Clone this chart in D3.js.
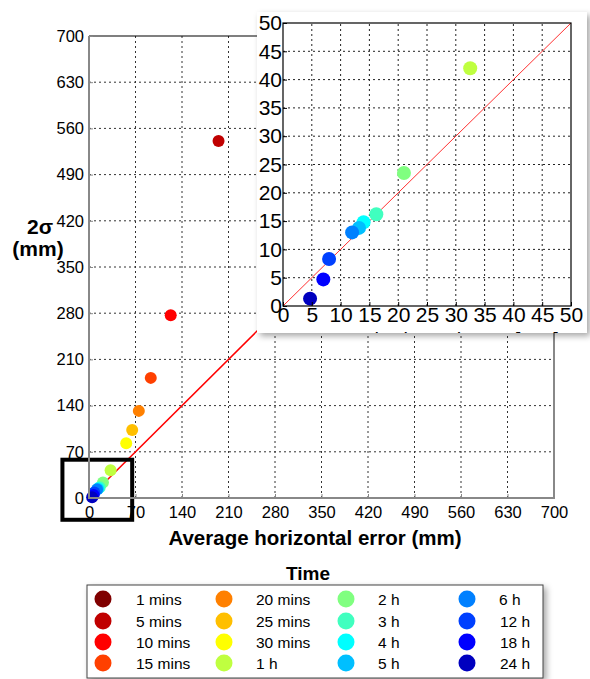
<!DOCTYPE html>
<html>
<head>
<meta charset="utf-8">
<script src="https://cdn.jsdelivr.net/npm/d3@7"></script>
<style>
  body { margin: 0; background: #fff; }
  text { font-family: "Liberation Sans", Arial, sans-serif; }
</style>
</head>
<body>
<div id="chart"></div>
<script>
// time steps, colours and measured values (mm)
const times = ["1 mins", "5 mins", "10 mins", "15 mins", "20 mins", "25 mins", "30 mins", "1 h",
    "2 h", "3 h", "4 h", "5 h", "6 h", "12 h", "18 h", "24 h"];
const colors = ["#800000", "#c00000", "#ff0000", "#ff4000", "#ff8000", "#ffbf00", "#ffff00", "#bfff40",
    "#80ff80", "#40ffbf", "#00ffff", "#00bfff", "#0080ff", "#0040ff", "#0000ff", "#0000bf"];
// 1 min lies outside the plotted range
const avgError = [null, 195, 123, 93, 75, 65, 56, 32.5, 21, 16.2, 14, 13.2, 12, 8, 7, 4.7];
const twoSigma = [null, 541, 277, 182, 132, 103, 83, 42, 23.5, 16.2, 14.8, 13.8, 13, 8.3, 4.7, 1.3];
const mainTicks = [0, 70, 140, 210, 280, 350, 420, 490, 560, 630, 700];
const insetTicks = [0, 5, 10, 15, 20, 25, 30, 35, 40, 45, 50];

const w = 590, h = 679;
const svg = d3.select("#chart").append("svg").attr("width", w).attr("height", h);

const defs = svg.append("defs");
const shadow = defs.append("filter").attr("id", "shadow")
    .attr("x", "-10%").attr("y", "-10%").attr("width", "125%").attr("height", "125%");
shadow.append("feDropShadow").attr("dx", 3).attr("dy", 3).attr("stdDeviation", 3)
    .attr("flood-color", "#000").attr("flood-opacity", 0.35);

const pts = times.map((t, i) => ({ t: t, c: colors[i], x: avgError[i], y: twoSigma[i] }))
    .filter(d => d.x !== null);

// ---------- main plot ----------
const x = d3.scaleLinear().domain([0, 700]).range([89, 554]);
const y = d3.scaleLinear().domain([0, 700]).range([498, 36]);

const grid = svg.append("g").attr("stroke", "#333").attr("stroke-dasharray", "2,3").attr("stroke-width", 1);
grid.selectAll(".gx").data(mainTicks.slice(1, -1)).enter().append("line")
    .attr("x1", d => x(d)).attr("x2", d => x(d)).attr("y1", y(0)).attr("y2", y(700));
grid.selectAll(".gy").data(mainTicks.slice(1, -1)).enter().append("line")
    .attr("y1", d => y(d)).attr("y2", d => y(d)).attr("x1", x(0)).attr("x2", x(700));

svg.append("line")
    .attr("x1", x(0)).attr("y1", y(0)).attr("x2", x(700)).attr("y2", y(700))
    .attr("stroke", "#ff0000").attr("stroke-width", 1.5);

svg.selectAll(".mp").data(pts).enter().append("circle")
    .attr("cx", d => x(d.x)).attr("cy", d => y(d.y)).attr("r", 6)
    .attr("fill", d => d.c);

// zoom box
svg.append("rect")
    .attr("x", x(-40)).attr("y", y(58))
    .attr("width", x(65) - x(-40)).attr("height", y(-33) - y(58))
    .attr("fill", "none").attr("stroke", "#000").attr("stroke-width", 4);

// frame
svg.append("line").attr("x1", x(0)).attr("x2", x(700)).attr("y1", y(700)).attr("y2", y(700))
    .attr("stroke", "#000").attr("stroke-width", 1.2);
svg.append("path")
    .attr("d", `M${x(0)},${y(700)}V${y(0)}H${x(700)}V${y(700)}`)
    .attr("fill", "none").attr("stroke", "#888").attr("stroke-width", 2);

const xAxis = svg.append("g").attr("transform", `translate(0,${y(0)})`)
    .call(d3.axisBottom(x).tickValues(mainTicks).tickSize(-4).tickPadding(8));
const yAxis = svg.append("g").attr("transform", `translate(${x(0)},0)`)
    .call(d3.axisLeft(y).tickValues(mainTicks).tickSize(-4).tickPadding(5));
[xAxis, yAxis].forEach(a => {
    a.select(".domain").remove();
    a.selectAll(".tick line").attr("stroke", "#888");
    a.selectAll("text").attr("font-size", "16.5px").attr("fill", "#000")
        .attr("font-family", "Liberation Sans, Arial, sans-serif");
});

svg.append("text").attr("x", 315).attr("y", 545).attr("text-anchor", "middle")
    .attr("font-size", "20.5px").attr("font-weight", "bold").text("Average horizontal error (mm)");
svg.append("text").attr("x", 40).attr("y", 234).attr("text-anchor", "middle")
    .attr("font-size", "21px").attr("font-weight", "bold").text("2σ");
svg.append("text").attr("x", 38).attr("y", 256).attr("text-anchor", "middle")
    .attr("font-size", "21px").attr("font-weight", "bold").text("(mm)");

// ---------- inset ----------
const ix = d3.scaleLinear().domain([0, 50]).range([283, 571]);
const iy = d3.scaleLinear().domain([0, 50]).range([306, 23]);

defs.append("clipPath").attr("id", "insetClip").append("rect")
    .attr("x", 257).attr("y", 12).attr("width", 330).attr("height", 321);

svg.append("rect").attr("x", 257).attr("y", 12).attr("width", 330).attr("height", 321)
    .attr("fill", "#fff").attr("filter", "url(#shadow)");

const inset = svg.append("g").attr("clip-path", "url(#insetClip)");

const igrid = inset.append("g").attr("stroke", "#222").attr("stroke-dasharray", "2,3").attr("stroke-width", 1);
igrid.selectAll(".gx").data(insetTicks.slice(1, -1)).enter().append("line")
    .attr("x1", d => ix(d)).attr("x2", d => ix(d)).attr("y1", iy(0)).attr("y2", iy(50));
igrid.selectAll(".gy").data(insetTicks.slice(1, -1)).enter().append("line")
    .attr("y1", d => iy(d)).attr("y2", d => iy(d)).attr("x1", ix(0)).attr("x2", ix(50));

inset.append("line")
    .attr("x1", ix(0)).attr("y1", iy(0)).attr("x2", ix(50)).attr("y2", iy(50))
    .attr("stroke", "#ff3030").attr("stroke-width", 1);

inset.selectAll(".ip").data(pts.filter(d => d.x <= 50 && d.y <= 50)).enter().append("circle")
    .attr("cx", d => ix(d.x)).attr("cy", d => iy(d.y)).attr("r", 7)
    .attr("fill", d => d.c);

inset.append("rect").attr("x", ix(0)).attr("y", iy(50))
    .attr("width", ix(50) - ix(0)).attr("height", iy(0) - iy(50))
    .attr("fill", "none").attr("stroke", "#000").attr("stroke-width", 1.2);

const ixAxis = inset.append("g").attr("transform", `translate(0,${iy(0)})`)
    .call(d3.axisBottom(ix).tickValues(insetTicks).tickSize(-4).tickPadding(1));
const iyAxis = inset.append("g").attr("transform", `translate(${ix(0)},0)`)
    .call(d3.axisLeft(iy).tickValues(insetTicks).tickSize(-4).tickPadding(1));
[ixAxis, iyAxis].forEach(a => {
    a.select(".domain").remove();
    a.selectAll(".tick line").attr("stroke", "#000");
    a.selectAll("text").attr("font-size", "21px").attr("fill", "#000")
        .attr("font-family", "Liberation Sans, Arial, sans-serif");
});

inset.append("text").attr("x", ix(25)).attr("y", 347).attr("text-anchor", "middle")
    .attr("font-size", "20px").text("Average horizontal error [mm]");

// ---------- legend ----------
svg.append("text").attr("x", 308).attr("y", 580).attr("text-anchor", "middle")
    .attr("font-size", "19px").attr("font-weight", "bold").text("Time");

svg.append("rect").attr("x", 87).attr("y", 585).attr("width", 456).attr("height", 93)
    .attr("fill", "#fff").attr("stroke", "#444").attr("stroke-width", 1)
    .attr("filter", "url(#shadow)");

const colDot = [103, 224, 346, 467];
const colText = [136, 256, 378, 499];
const rowY = [599, 621, 642, 663];

const items = svg.selectAll(".leg").data(times).enter().append("g")
    .attr("transform", (d, i) => `translate(0,${rowY[i % 4]})`);
items.append("circle")
    .attr("cx", (d, i) => colDot[Math.floor(i / 4)]).attr("cy", 0).attr("r", 8.5)
    .attr("fill", (d, i) => colors[i]);
items.append("text")
    .attr("x", (d, i) => colText[Math.floor(i / 4)] + (d.length === 4 ? 1 : 0))
    .attr("y", 5.5).attr("font-size", "15.5px").text(d => d);
</script>
</body>
</html>
